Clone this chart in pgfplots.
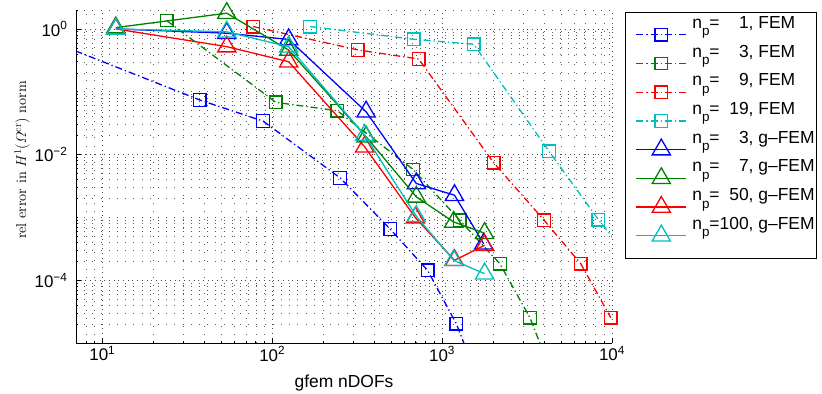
\documentclass[border=0pt]{standalone}
\usepackage{fontspec}
\usepackage{amsmath}
\usepackage{pgfplots}
\pgfplotsset{compat=1.18}
\newfontfamily\hv{Liberation Sans}
\definecolor{mblue}{rgb}{0,0,1}
\definecolor{mgreen}{rgb}{0,0.5,0}
\definecolor{mred}{rgb}{1,0,0}
\definecolor{mcyan}{rgb}{0,0.75,0.75}
\newcommand{\np}{n\raisebox{-7.5bp}{\fontsize{13.5}{14}\selectfont p}}
\pgfplotsset{
  fem/.style={line width=1.3bp, dash pattern=on 7bp off 3bp on 1.3bp off 3bp, mark=square, mark size=6.3bp, mark options={solid}},
  gfem/.style={line width=1.3bp, solid, mark=triangle, mark size=10.5bp, mark options={solid}},
}
\begin{document}
\begin{tikzpicture}
\begin{axis}[
  scale only axis, width=536bp, height=333bp,
  xmode=log, ymode=log,
  xmin=7, xmax=10000, ymin=1e-5, ymax=2,
  clip mode=individual,
  axis x line=bottom, axis y line=left,
  axis line style={-, line width=0.7bp},
  xtick={10,100,1000,10000},
  xticklabels={10\textsuperscript{1},10\textsuperscript{2},10\textsuperscript{3},10\textsuperscript{4}},
  ytick={1e-4,1e-2,1},
  yticklabels={10\textsuperscript{−4},10\textsuperscript{−2},10\textsuperscript{0}},
  minor xtick={7,8,9,20,30,40,50,60,70,80,90,200,300,400,500,600,700,800,900,2000,3000,4000,5000,6000,7000,8000,9000},
  minor ytick={2e-5,3e-5,4e-5,5e-5,6e-5,7e-5,8e-5,9e-5,2e-4,3e-4,4e-4,5e-4,6e-4,7e-4,8e-4,9e-4,1e-3,2e-3,3e-3,4e-3,5e-3,6e-3,7e-3,8e-3,9e-3,2e-2,3e-2,4e-2,5e-2,6e-2,7e-2,8e-2,9e-2,1e-1,2e-1,3e-1,4e-1,5e-1,6e-1,7e-1,8e-1,9e-1,2},
  grid=both,
  major grid style={black!70, line width=0.5bp, dash pattern=on 0.7bp off 4bp},
  minor grid style={black!65, line width=0.5bp, dash pattern=on 0.7bp off 7.5bp},
  tick align=inside, major tick length=5bp, minor tick length=2.5bp,
  tick style={black, line width=0.6bp},
  ticklabel style={font=\hv\fontsize{17}{20}\selectfont},
  yticklabel style={xshift=-5bp},
  xlabel={gfem nDOFs},
  xlabel style={font=\hv\fontsize{17.5}{20}\selectfont, at={(axis description cs:0.5,-0.1351)}, anchor=base},
  ylabel={rel error in $H^1(\varOmega^{\mathrm{cr}})$ norm},
  ylabel style={font=\rmfamily\fontsize{14.5}{17}\selectfont, at={(axis description cs:-0.1007,0.55)}, anchor=center},
  legend image code/.code={
    \pgfpathrectangle{\pgfpoint{-9bp}{-7bp}}{\pgfpoint{59bp}{14bp}}\pgfusepath{use as bounding box}
    \draw[mark indices={2}] plot coordinates {(0bp,0bp) (25bp,0bp) (50bp,0bp)};
  },
  legend cell align=left,
  legend style={at={(axis description cs:1,1)}, anchor=north west, xshift=13bp, yshift=-2bp,
    draw=black, line width=0.6bp, fill=white,
    font=\hv\fontsize{17.5}{20}\selectfont,
    inner xsep=2bp, inner ysep=3.5bp, row sep=-9.3bp, column sep=6bp,
    nodes={inner sep=0pt, text height=12.5bp, text depth=25.5bp}},
]
\addplot[mblue, fem, mark indices={1,2,3,4,5,6,7}] coordinates {(6.96,0.446) (37.5,0.0738) (88.3,0.0341) (251,0.00425) (495,6.5e-4) (822,1.43e-4) (1213,2.02e-5) (1570,3.4e-6)};
\addlegendentry{\np=\phantom{0}\phantom{0}1, FEM}
\addplot[mgreen, fem, mark indices={1,2,3,4,5,6,7}] coordinates {(23.9,1.36) (105,0.0678) (242,0.0498) (675,0.00578) (1270,9.0e-4) (2187,1.83e-4) (3290,2.52e-5) (4470,3.0e-6)};
\addlegendentry{\np=\phantom{0}\phantom{0}3, FEM}
\addplot[mred, fem] coordinates {(77.3,1.09) (319,0.463) (728,0.332) (2014,0.00738) (3985,9.0e-4) (6546,1.83e-4) (9840,2.52e-5)};
\addlegendentry{\np=\phantom{0}\phantom{0}9, FEM}
\addplot[mcyan, fem, mark indices={1,2,3,4,5}] coordinates {(167,1.09) (680,0.684) (1535,0.57) (4255,0.0113) (8320,9.2e-4) (12900,2.1e-4)};
\addlegendentry{\np=\phantom{0}19, FEM}
\addplot[mblue, gfem] coordinates {(12,1.0) (54,0.854) (125,0.68) (357,0.048) (705,0.00346) (1183,0.00225) (1757,3.8e-4)};
\addlegendentry{\np=\phantom{0}\phantom{0}3, g–FEM}
\addplot[mgreen, gfem] coordinates {(12,1.05) (54,1.78) (125,0.46) (357,0.0192) (705,0.00212) (1170,8.45e-4) (1778,5.6e-4)};
\addlegendentry{\np=\phantom{0}\phantom{0}7, g–FEM}
\addplot[mred, gfem] coordinates {(12,1.0) (54,0.522) (125,0.30) (350,0.0133) (696,9.9e-4) (1183,2.07e-4) (1778,3.59e-4)};
\addlegendentry{\np=\phantom{0}50, g–FEM}
\addplot[mcyan, gfem] coordinates {(12,1.0) (54,0.9) (125,0.52) (350,0.0204) (705,0.00104) (1170,2.07e-4) (1778,1.27e-4)};
\addlegendentry{\np=100, g–FEM}
\end{axis}
\pgfresetboundingbox
\path (-76bp,-51bp) rectangle (746bp,343bp);
\end{tikzpicture}
\end{document}
